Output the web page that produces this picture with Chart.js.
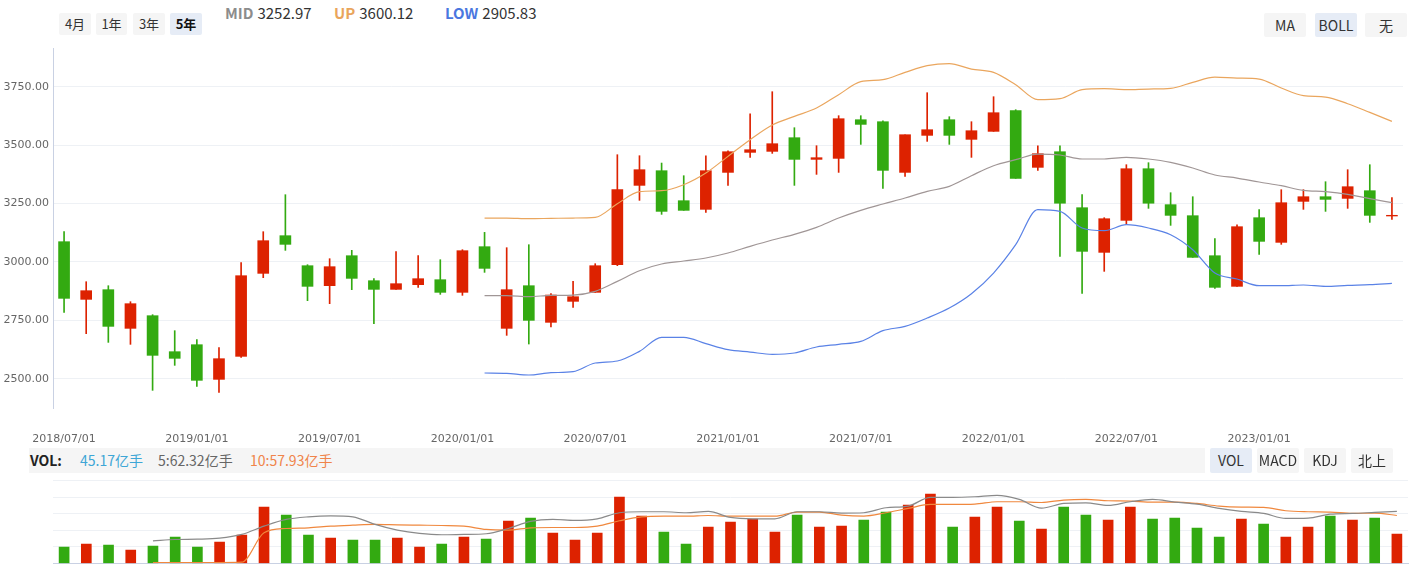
<!DOCTYPE html>
<html><head><meta charset="utf-8">
<script src="https://cdn.jsdelivr.net/npm/chart.js@4.4.0/dist/chart.umd.min.js"></script>
<style>
html,body{margin:0;padding:0;background:#fff;}
body{width:1417px;height:565px;position:relative;overflow:hidden;font-family:"Noto Sans CJK SC","Noto Sans",sans-serif;color:#333;}
.btn{position:absolute;background:#f5f5f5;color:#333;text-align:center;border-radius:2px;}
.rb{top:13px;height:22px;line-height:22px;font-size:13px;width:32px;}
.tb{top:13px;height:24px;line-height:24px;font-size:14px;width:42px;}
.vb{top:448px;height:25px;line-height:25px;font-size:14px;width:42px;}
.sel{background:#e6ecf6;}
.lbl{position:absolute;top:3px;height:20px;line-height:20px;font-size:15px;white-space:nowrap;}
.lbl b{font-weight:700;margin-right:4px;}
#volbar{position:absolute;left:29px;top:448px;width:1176px;height:25px;background:#f5f5f5;}
.vl{position:absolute;top:448px;height:25px;line-height:25px;font-size:14px;white-space:nowrap;}
#mainWrap{position:absolute;left:0;top:0;width:1417px;height:450px;}
#volWrap{position:absolute;left:0;top:474px;width:1417px;height:91px;}
</style></head>
<body>
<div class="btn rb" style="left:59px;">4月</div>
<div class="btn rb" style="left:96px;width:31px;">1年</div>
<div class="btn rb" style="left:133px;">3年</div>
<div class="btn rb sel" style="left:170px;font-weight:700;color:#111;">5年</div>
<div class="lbl" style="left:225px;"><b style="color:#8c8c8c">MID</b>3252.97</div>
<div class="lbl" style="left:334px;"><b style="color:#e9a55c">UP</b>3600.12</div>
<div class="lbl" style="left:445px;"><b style="color:#4a77e0">LOW</b>2905.83</div>
<div class="btn tb" style="left:1264px;">MA</div>
<div class="btn tb sel" style="left:1315px;">BOLL</div>
<div class="btn tb" style="left:1365px;">无</div>

<div id="mainWrap"><canvas id="main" width="1417" height="450"></canvas></div>

<div id="volbar"></div>
<div class="vl" style="left:30px;font-weight:700;color:#222;">VOL:</div>
<div class="vl" style="left:80px;color:#3ea6d6;">45.17亿手</div>
<div class="vl" style="left:158px;color:#666;">5:62.32亿手</div>
<div class="vl" style="left:250px;color:#f0844a;">10:57.93亿手</div>
<div class="btn vb sel" style="left:1210px;">VOL</div>
<div class="btn vb" style="left:1257px;">MACD</div>
<div class="btn vb" style="left:1304px;">KDJ</div>
<div class="btn vb" style="left:1351px;">北上</div>

<div id="volWrap"><canvas id="vol" width="1417" height="91"></canvas></div>

<script>
const categories = ['2018/07/01','2018/08/01','2018/09/01','2018/10/01','2018/11/01','2018/12/01',
'2019/01/01','2019/02/01','2019/03/01','2019/04/01','2019/05/01','2019/06/01',
'2019/07/01','2019/08/01','2019/09/01','2019/10/01','2019/11/01','2019/12/01',
'2020/01/01','2020/02/01','2020/03/01','2020/04/01','2020/05/01','2020/06/01',
'2020/07/01','2020/08/01','2020/09/01','2020/10/01','2020/11/01','2020/12/01',
'2021/01/01','2021/02/01','2021/03/01','2021/04/01','2021/05/01','2021/06/01',
'2021/07/01','2021/08/01','2021/09/01','2021/10/01','2021/11/01','2021/12/01',
'2022/01/01','2022/02/01','2022/03/01','2022/04/01','2022/05/01','2022/06/01',
'2022/07/01','2022/08/01','2022/09/01','2022/10/01','2022/11/01','2022/12/01',
'2023/01/01','2023/02/01','2023/03/01','2023/04/01','2023/05/01','2023/06/01',
'2023/07/01'];

const openVals = [3086.5,2839.6,2881.0,2715.5,2769.7,2615.6,2645.5,2497.1,2595.6,2950.9,
3112.2,2983.7,2898.1,3026.5,2919.5,2882.4,2902.4,2923.8,2869.6,3065.1,
2715.5,2898.1,2741.2,2831.1,2869.6,2988.0,3327.6,3390.4,3262.0,3224.9,
3383.2,3468.9,3473.2,3531.7,3438.9,3443.2,3608.7,3600.2,3383.2,3541.7,
3608.7,3524.6,3558.8,3647.3,3404.7,3471.7,3232.0,3040.8,3177.8,3398.9,
3245.0,3197.8,3026.5,2895.3,3189.2,3083.6,3259.1,3279.1,3271.9,3304.8,
3196.5];
const closeVals = [2843.9,2876.7,2724.0,2821.1,2599.9,2587.1,2492.9,2585.6,2940.9,3090.8,
3075.1,2895.3,2979.5,2929.5,2882.4,2906.7,2928.1,2869.6,3048.0,2972.3,
2881.0,2749.7,2858.1,2851.0,2983.7,3309.1,3394.7,3216.3,3220.6,3390.4,
3471.7,3480.3,3506.0,3438.9,3446.1,3613.0,3588.7,3391.8,3544.5,3565.9,
3541.7,3561.6,3638.7,3357.6,3463.2,3251.1,3045.1,3184.9,3398.9,3251.1,
3199.2,3019.4,2891.0,3150.7,3087.9,3253.4,3279.1,3267.7,3321.9,3199.2,
3199.5];
const highVals = [3129.3,2915.2,2898.1,2829.6,2774.0,2705.5,2667.0,2632.7,2996.6,3129.3,
3287.7,2988.0,3013.7,3049.4,2928.1,3043.7,3026.5,3009.4,3052.2,3126.4,
3060.8,3073.6,2863.9,2916.7,2992.3,3458.9,3454.6,3423.2,3369.0,3454.6,
3476.0,3634.4,3728.6,3574.5,3497.4,3625.9,3625.9,3604.4,3544.5,3724.3,
3621.6,3600.2,3707.2,3651.5,3497.4,3497.4,3287.7,3189.2,3416.1,3424.7,
3296.2,3279.1,3099.3,3159.2,3223.5,3309.1,3309.1,3343.3,3394.7,3416.1,
3274.8];
const lowVals = [2784.0,2692.6,2655.5,2647.0,2450.1,2557.1,2467.2,2441.5,2591.3,2932.4,
3049.4,2833.9,2821.1,2881.0,2735.4,2882.4,2891.0,2861.0,2856.8,2955.2,
2685.5,2648.4,2721.2,2805.4,2869.6,2983.7,3263.4,3203.5,3220.6,3212.0,
3327.6,3447.5,3464.6,3327.6,3374.7,3383.2,3503.1,3314.8,3366.1,3516.0,
3503.1,3447.5,3558.8,3357.6,3391.8,3023.7,2865.3,2959.5,3160.7,3229.2,
3156.4,3019.4,2886.7,2895.3,3032.3,3075.1,3224.9,3216.3,3229.2,3169.2,
3182.1];

// Bollinger bands, first value at index 19 (2020/02)
const bollStart = 19;
const bollUp = [3187.8,3187.8,3185.0,3186.4,3187.8,3190.6,3249.2,3300.5,3304.8,3330.5,
3380.4,3451.8,3523.1,3585.9,3623.0,3658.7,3715.8,3771.4,3780.0,3811.4,
3839.9,3848.5,3825.6,3811.4,3758.5,3694.4,3698.6,3737.2,3741.4,3737.2,
3740.0,3742.9,3768.5,3791.4,3787.1,3782.8,3744.3,3711.5,3705.8,3677.2,
3640.1,3601.6];
const bollMid = [2855.3,2855.3,2851.0,2856.7,2858.1,2873.9,2916.7,2962.3,2990.9,3003.7,
3016.6,3037.9,3066.5,3093.6,3117.9,3147.8,3187.8,3220.6,3247.7,3273.4,
3301.9,3323.3,3369.0,3411.8,3437.5,3461.7,3457.5,3440.4,3440.4,3447.5,
3440.4,3426.1,3401.8,3371.9,3359.0,3341.9,3326.2,3306.2,3300.5,3289.1,
3270.5,3253.4];
const bollLow = [2524.3,2522.8,2515.7,2525.7,2530.0,2567.1,2575.6,2617.0,2677.0,2677.0,
2649.9,2624.1,2614.1,2604.2,2609.9,2635.6,2647.0,2659.8,2705.5,2724.0,
2759.7,2802.5,2863.9,2952.3,3073.6,3223.5,3216.3,3145.0,3133.6,3159.2,
3145.0,3116.4,3052.2,2952.3,2926.6,2898.1,2898.1,2901.0,2895.3,2899.5,
2902.4,2908.1];

const volumes = [19.7,23.4,22.2,16.1,21.0,31.8,19.7,25.8,34.3,68.1,
58.4,34.3,30.6,28.2,28.2,30.6,19.7,23.4,31.8,29.4,
51.2,54.8,36.7,28.2,36.7,80.2,57.2,37.9,23.4,43.9,
50.0,53.6,37.9,58.4,43.9,45.1,52.4,62.1,70.5,83.8,
43.9,56.0,68.1,51.2,41.5,68.1,58.4,52.4,68.1,53.6,
54.8,42.7,31.8,53.6,47.6,31.8,43.9,57.2,52.4,54.8,35.5];
// volume moving averages, first value at index 4
const volMaStart = 4;
const volMa5 = [27.4,29.0,29.4,30.6,35.1,45.1,53.2,56.4,57.6,56.4,
47.2,40.3,36.3,34.7,35.1,35.9,42.3,50.8,53.2,52.0,
54.0,61.3,62.5,62.5,61.3,62.9,55.6,54.0,54.0,62.5,
62.5,60.9,61.3,67.3,69.3,79.8,79.8,80.6,82.2,77.4,
66.9,72.5,73.3,70.1,74.6,77.4,74.2,71.7,66.5,62.9,
60.5,54.4,54.8,59.6,60.5,61.7,62.9];
const volMa10 = [1.2,1.2,1.2,1.2,1.6,37.1,42.3,43.1,45.1,46.3,
47.2,46.7,46.3,45.9,45.1,41.1,40.3,43.1,43.5,43.5,
45.1,51.6,56.4,57.2,57.2,58.0,57.2,57.2,57.2,62.1,
62.1,58.4,57.2,61.3,66.5,71.3,71.3,71.7,74.6,74.6,
73.7,76.6,77.4,75.8,75.4,74.2,74.2,72.5,69.3,68.1,
67.7,63.7,62.5,62.1,60.5,60.9,58.0];

const yTickValues = [2500, 2750, 3000, 3250, 3500, 3750];
const volTickValues = [0, 20, 40, 60, 80, 100];

const RED = '#dd2200', GREEN = '#33aa11';
const candleColors = openVals.map((o, i) => closeVals[i] >= o ? RED : GREEN);
const bodies = openVals.map((o, i) => [o, closeVals[i]]);
const wicks = lowVals.map((l, i) => [l, highVals[i]]);
const pad = (arr, start) => new Array(start).fill(null).concat(arr);

const axisFont = {family: 'DejaVu Sans', size: 11};

new Chart(document.getElementById('main'), {
  data: {
    labels: categories,
    datasets: [
      {type: 'line', data: pad(bollUp, bollStart), borderColor: '#eaa65e', borderWidth: 1.2, pointRadius: 0, cubicInterpolationMode: 'monotone', order: 0},
      {type: 'line', data: pad(bollMid, bollStart), borderColor: '#a09696', borderWidth: 1.2, pointRadius: 0, cubicInterpolationMode: 'monotone', order: 0},
      {type: 'line', data: pad(bollLow, bollStart), borderColor: '#5a82e6', borderWidth: 1.2, pointRadius: 0, cubicInterpolationMode: 'monotone', order: 0},
      {type: 'bar', data: bodies, backgroundColor: candleColors, barThickness: 11, grouped: false, order: 1},
      {type: 'bar', data: wicks, backgroundColor: candleColors, barThickness: 1, grouped: false, order: 2}
    ]
  },
  options: {
    responsive: false, animation: false, events: [],
    layout: {padding: {top: 48, right: 9, left: 0, bottom: 0}},
    plugins: {legend: {display: false}, tooltip: {enabled: false}},
    scales: {
      x: {
        type: 'category', offset: true,
        grid: {display: false, drawTicks: false}, border: {display: false},
        ticks: {autoSkip: false, maxRotation: 0, minRotation: 0, padding: 25, color: '#666', font: axisFont,
          callback: (v, i) => (i % 6 === 0 && i < 60) ? categories[i] : ''},
        afterFit: s => { s.height = 42; }
      },
      y: {
        min: 2374.5, max: 3915.7,
        grid: {color: '#eef1f5', drawTicks: false, lineWidth: 1},
        border: {display: true, color: '#c9d1e3'},
        ticks: {padding: 4, color: '#666', font: axisFont, callback: v => Number(v).toFixed(2)},
        afterBuildTicks: s => { s.ticks = yTickValues.map(v => ({value: v})); },
        afterFit: s => { s.width = 53; }
      }
    }
  }
});

new Chart(document.getElementById('vol'), {
  data: {
    labels: categories,
    datasets: [
      {type: 'line', data: pad(volMa5, volMaStart), borderColor: '#8a8a8a', borderWidth: 1.2, pointRadius: 0, cubicInterpolationMode: 'monotone', order: 0},
      {type: 'line', data: pad(volMa10, volMaStart), borderColor: '#f0883e', borderWidth: 1.2, pointRadius: 0, cubicInterpolationMode: 'monotone', order: 0},
      {type: 'bar', data: volumes, backgroundColor: candleColors, barThickness: 10, order: 1}
    ]
  },
  options: {
    responsive: false, animation: false, events: [],
    layout: {padding: {top: 6.7, right: 9, left: 0, bottom: 1.5}},
    plugins: {legend: {display: false}, tooltip: {enabled: false}},
    scales: {
      x: {
        type: 'category', offset: true,
        grid: {display: false, drawTicks: false},
        border: {display: true, color: '#c9d1e3'},
        ticks: {display: false},
        afterFit: s => { s.height = 0; }
      },
      y: {
        min: 0, max: 100,
        grid: {color: '#eef1f5', drawTicks: false},
        border: {display: false},
        ticks: {display: false},
        afterBuildTicks: s => { s.ticks = volTickValues.map(v => ({value: v})); },
        afterFit: s => { s.width = 53; }
      }
    }
  }
});
</script>
</body></html>
